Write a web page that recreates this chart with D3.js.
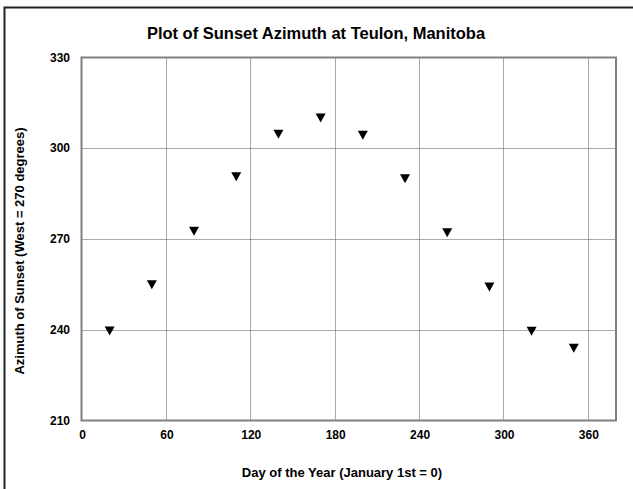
<!DOCTYPE html>
<html lang="en">
<head>
    <meta charset="UTF-8">
    <title>Plot of Sunset Azimuth at Teulon, Manitoba</title>
    <script src="https://d3js.org/d3.v7.min.js"></script>
    <style>
        body { margin: 0; background: #fff; }
        text { font-family: "Liberation Sans", Arial, sans-serif; font-weight: bold; fill: #000; }
        .grid line { stroke: #555; stroke-width: 1; stroke-dasharray: 1,1; }
    </style>
</head>
<body>
    <svg id="chart" width="633" height="489"></svg>
    <script>
        // Data
        const days = [20, 50, 80, 110, 140, 170, 200, 230, 260, 290, 320, 350];
        const azimuth = [239.6, 254.9, 272.6, 290.6, 304.6, 310.0, 304.3, 289.9, 272.1, 254.1, 239.5, 233.9];
        const xTicks = [0, 60, 120, 180, 240, 300, 360];
        const yTicks = [210, 240, 270, 300, 330];

        const svg = d3.select("#chart");

        // Plot area
        const margin = {top: 57.5, right: 17, bottom: 68.5, left: 81.5},
              W = 633, H = 489;

        const x = d3.scaleLinear().domain([0, 380]).range([margin.left, W - margin.right]);
        const y = d3.scaleLinear().domain([210, 330]).range([H - margin.bottom, margin.top]);

        // outer border
        svg.append("rect")
            .attr("x", 4.5).attr("y", 7.5)
            .attr("width", 640).attr("height", 500)
            .attr("fill", "none")
            .attr("stroke", "#222")
            .attr("stroke-width", 2);

        // gridlines
        const grid = svg.append("g").attr("class", "grid");
        grid.selectAll(".vx")
            .data(xTicks.filter(d => d > 0))
            .enter().append("line")
            .attr("x1", d => Math.round(x(d)) + 0.5).attr("x2", d => Math.round(x(d)) + 0.5)
            .attr("y1", y(330)).attr("y2", y(210));
        grid.selectAll(".hy")
            .data(yTicks.filter(d => d > 210 && d < 330))
            .enter().append("line")
            .attr("y1", d => Math.round(y(d)) + 0.5).attr("y2", d => Math.round(y(d)) + 0.5)
            .attr("x1", x(0)).attr("x2", x(380));

        // plot frame
        svg.append("rect")
            .attr("x", x(0)).attr("y", y(330))
            .attr("width", x(380) - x(0)).attr("height", y(210) - y(330))
            .attr("fill", "none")
            .attr("stroke", "#808080")
            .attr("stroke-width", 2);

        // y tick labels
        svg.append("g").selectAll("text")
            .data(yTicks)
            .enter().append("text")
            .attr("x", 70)
            .attr("y", d => y(d))
            .attr("dy", "0.35em")
            .attr("text-anchor", "end")
            .attr("font-size", 12)
            .text(d => d);

        // x tick labels
        svg.append("g").selectAll("text")
            .data(xTicks)
            .enter().append("text")
            .attr("x", d => x(d) + 1)
            .attr("y", y(210) + 18)
            .attr("text-anchor", "middle")
            .attr("font-size", 12)
            .text(d => d);

        // markers (downward triangles)
        svg.append("g").selectAll("path")
            .data(days.map((d, i) => [d, azimuth[i]]))
            .enter().append("path")
            .attr("transform", d => `translate(${x(d[0])},${y(d[1])})`)
            .attr("d", "M-5,-4.5L5,-4.5L0,4.5Z")
            .attr("fill", "#000");

        // title
        svg.append("text")
            .attr("x", 316).attr("y", 39)
            .attr("text-anchor", "middle")
            .attr("font-size", 16.5)
            .text("Plot of Sunset Azimuth at Teulon, Manitoba");

        // axis titles
        svg.append("text")
            .attr("x", 342).attr("y", 477)
            .attr("text-anchor", "middle")
            .attr("font-size", 13)
            .text("Day of the Year (January 1st = 0)");

        svg.append("text")
            .attr("transform", "translate(24,251) rotate(-90)")
            .attr("text-anchor", "middle")
            .attr("font-size", 13)
            .text("Azimuth of Sunset (West = 270 degrees)");
    </script>
</body>
</html>
